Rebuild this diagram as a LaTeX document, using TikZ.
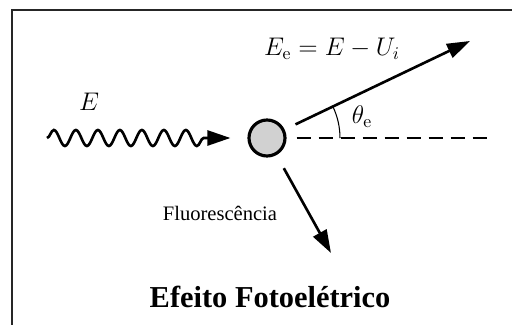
\documentclass[tikz,border=0pt]{standalone}
\usepackage{fix-cm}
\usepackage{fontspec}
\newfontfamily\timesfont{Liberation Serif}
\usetikzlibrary{arrows.meta,decorations.pathmorphing}

\begin{document}
\begin{tikzpicture}[
  x=0.02cm, y=-0.02cm,
  atom/.style={circle, draw, line width=1.8pt, fill=black!18, minimum size=0.72cm, inner sep=0pt},
  arrow/.style={-{Triangle[length=0.46cm, width=0.3cm]}, line width=1.5pt},
  wave/.style={arrow, decorate, decoration={snake, segment length=0.44cm, amplitude=0.16cm, post length=0.85cm}},
  mathlabel/.style={font=\fontsize{14.5}{17}\selectfont, inner sep=0pt},
  textlabel/.style={font=\timesfont\fontsize{11.7}{14}\selectfont, inner sep=0pt}
]
\useasboundingbox (0,0) rectangle (512,325);

% frame
\draw[line width=1.1pt, black!85] (12,325) |- (512,10);

\node[atom] (atom) at (267,138) {};

\coordinate (photon) at (47,138);
\coordinate (axis) at (492,138);
\coordinate (electron) at (470,41);
\coordinate (fluor) at (331,253);

% incoming photon
\draw[wave, shorten >=0.34cm] (photon) -- (atom);
\node[mathlabel] (energy) at (89,102) {$E$};

% photoelectron and reference axis
\draw[arrow, shorten <=0.24cm] (atom) -- (electron);
\draw[line width=0.9pt, dash pattern=on 0.28cm off 0.16cm, shorten <=0.2cm] (atom) -- (axis);
\draw[line width=0.6pt] (340,138) arc[start angle=0, end angle=-25.5, radius=73];
\node[mathlabel] (eenergy) at (332,49) {$E_{\mathrm{e}} = E - U_i$};
\node[mathlabel] (angle) at (362,117) {$\theta_{\mathrm{e}}$};

% fluorescence
\draw[arrow, shorten <=0.3cm] (atom) -- (fluor);
\node[textlabel] (fluolabel) at (220,213) {Fluorescência};

\node[font=\timesfont\bfseries\fontsize{17.3}{21}\selectfont, inner sep=0pt] (title) at (270,297) {Efeito Fotoelétrico};

\end{tikzpicture}
\end{document}
